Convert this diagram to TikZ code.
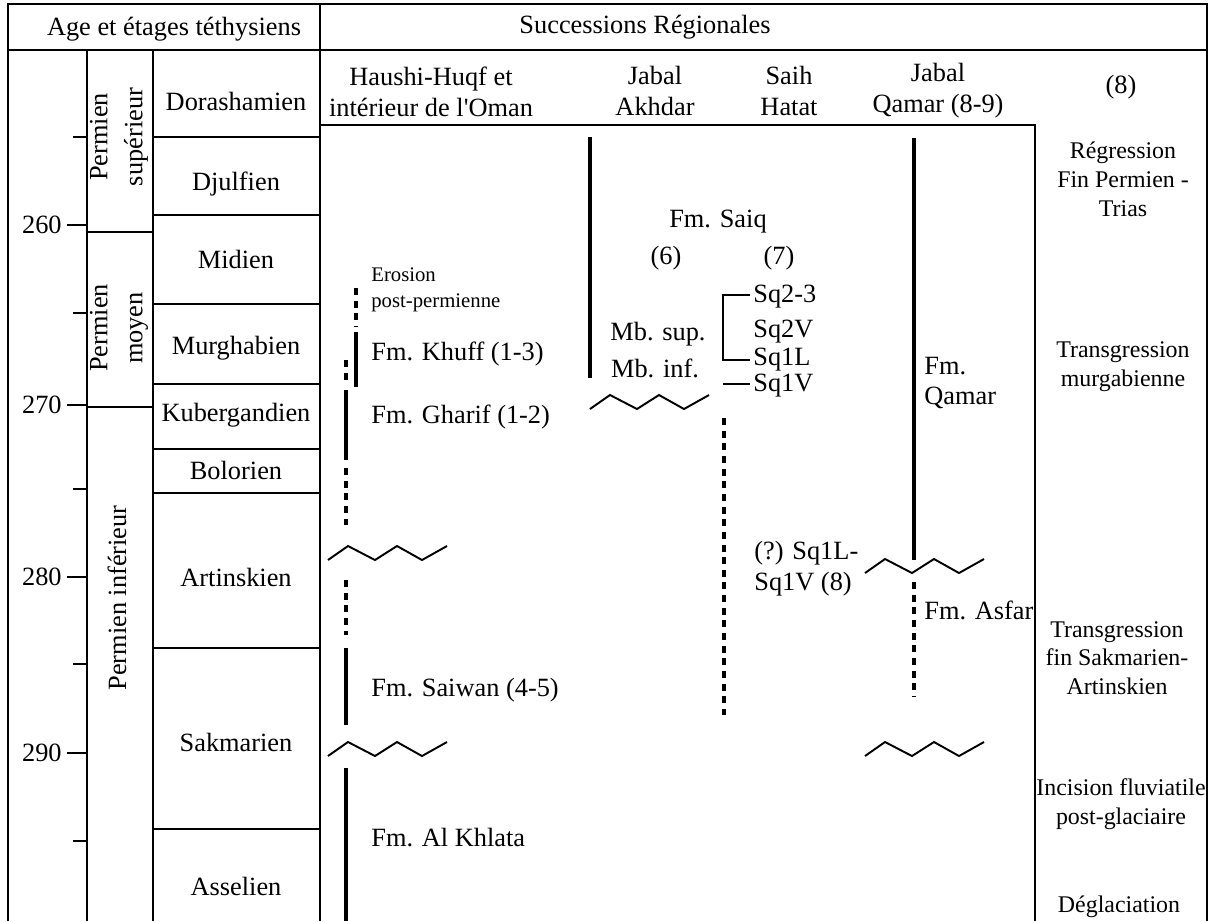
\documentclass[tikz,border=0pt]{standalone}
\usepackage{fontspec}
\setmainfont{Liberation Serif}
\begin{document}
\begin{tikzpicture}[x=0.02cm,y=-0.02cm,
    txt/.style={font=\fontsize{15}{17.5}\selectfont,inner sep=0pt,align=center},
    rtxt/.style={font=\fontsize{13.6}{16.4}\selectfont,inner sep=0pt,align=center},
    small/.style={font=\fontsize{11.8}{14.7}\selectfont,inner sep=0pt,align=left},
    frame/.style={line width=0.9pt},
    bold/.style={line width=2.3pt},
    dots/.style={line width=2.3pt,dash pattern=on 4pt off 3.2pt},
    zig/.style={line width=1.1pt}]
    \useasboundingbox (0,0) rectangle (1212,921);

        \draw[frame] (8,921) -- (8,4) -- (1207,4) -- (1207,921);
        \draw[frame] (8,50) -- (1207,50);
        \draw[frame] (320,4) -- (320,921);
        \draw[frame] (87,50) -- (87,921);
        \draw[frame] (153,50) -- (153,921);
        \draw[frame] (320,125) -- (1035,125) -- (1035,921);

        \foreach \y in {137,215,304,384,449,493,648,829}
        {   
            \draw[frame] (153,\y) -- (320,\y);
        }
        \foreach \y in {232,407}
        {   
            \draw[frame] (87,\y) -- (153,\y);
        }
        \foreach \y in {137,313,489,664,841}
        {   
            \draw[frame] (73,\y) -- (87,\y);
        }
        \foreach \v/\y in {260/225,270/405,280/577,290/753}
        {   
            \draw[frame] (67,\y) -- (87,\y);
            \node[txt,anchor=east] (age\v) at (62,\y) {\v};
        }

        \node[txt] (ageHead) at (174,29) {Age et étages téthysiens};
        \node[txt] (succHead) at (645,27) {Successions Régionales};

        \node[txt,rotate=90,font=\fontsize{15}{20}\selectfont] (permSup) at (119,137) {Permien\\supérieur};
        \node[txt,rotate=90,font=\fontsize{15}{20}\selectfont] (permMoy) at (119,328) {Permien\\moyen};
        \node[txt,rotate=90] (permInf) at (117,598) {Permien inférieur};

        \foreach \n/\t/\y in {dor/Dorashamien/101,dju/Djulfien/184,mid/Midien/259,
            mur/Murghabien/348,kub/Kubergandien/415,bol/Bolorien/470,
            art/Artinskien/577,sak/Sakmarien/742,ass/Asselien/886}
        {   
            \node[txt] (\n) at (236,\y) {\t};
        }

        \node[txt] (haushi) at (431,92) {Haushi-Huqf et\\intérieur de l\textquotesingle Oman};
        \node[txt] (akhdar) at (655,91) {Jabal\\Akhdar};
        \node[txt] (hatat) at (789,91) {Saih\\Hatat};
        \node[txt] (qamarHead) at (938,91) {Jabal\\Qamar (8-9)};
        \node[txt] (ref8) at (1121,87) {(8)};

        \node[rtxt] (regr) at (1123,179) {Régression\\Fin Permien -\\Trias};
        \node[rtxt] (trMurg) at (1123,367) {Transgression\\murgabienne};
        \node[rtxt] (trSak) at (1117,658) {Transgression\\fin Sakmarien-\\Artinskien};
        \node[rtxt] (incis) at (1121,804) {Incision fluviatile\\post-glaciaire};
        \node[rtxt] (degl) at (1119,907) {Déglaciation};

        \draw[dots] (356,288) -- (356,327);
        \draw[bold] (356,332) -- (356,387);
        \draw[dots] (346,360) -- (346,384);
        \draw[bold] (346,390) -- (346,460);
        \draw[dots] (346,468) -- (346,525);
        \draw[dots] (346,580) -- (346,635);
        \draw[bold] (346,648) -- (346,725);
        \draw[bold] (346,768) -- (346,921);

        \draw[bold] (590,137) -- (590,378);
        \draw[dots] (724,418) -- (724,715);
        \draw[bold] (914,138) -- (914,560);
        \draw[dots] (914,582) -- (914,697);

        \foreach \x/\y in {328/560,328/756,590/409,865/573,865/756}
        {   
            \draw[zig] (\x,\y) -- ++(20,-14) -- ++(27,14) -- ++(22,-14) -- ++(25,14) -- ++(25,-14);
        }

        \draw[zig] (750,295) -- (723,295) -- (723,360) -- (750,360);
        \draw[zig] (723,384) -- (750,384);

        \node[small,anchor=west] (erosion) at (371,290) {Erosion\\post-permienne};
        \node[txt,anchor=west] (khuff) at (371,354) {Fm. Khuff (1-3)};
        \node[txt,anchor=west] (gharif) at (371,417) {Fm. Gharif (1-2)};
        \node[txt,anchor=west] (saiwan) at (371,690) {Fm. Saiwan (4-5)};
        \node[txt,anchor=west] (khlata) at (371,838) {Fm. Al Khlata};

        \node[txt] (saiq) at (718,222) {Fm. Saiq};
        \node[txt] (ref6) at (666,258) {(6)};
        \node[txt] (ref7) at (779,258) {(7)};
        \node[txt] (mbSup) at (658,334) {Mb. sup.};
        \node[txt] (mbInf) at (655,368) {Mb. inf.};
        \foreach \n/\t/\y in {sq23/Sq2-3/297,sq2v/Sq2V/332,sq1l/Sq1L/360,sq1v/Sq1V/386}
        {   
            \node[txt,anchor=west] (\n) at (753,\y) {\t};
        }
        \node[txt,anchor=west,align=left] (sqq) at (754,569) {(?) Sq1L-\\Sq1V (8)};

        \node[txt,anchor=west,align=left] (fmQamar) at (924,383) {Fm.\\Qamar};
        \node[txt,anchor=west] (asfar) at (924,610) {Fm. Asfar};
\end{tikzpicture}
\end{document}
